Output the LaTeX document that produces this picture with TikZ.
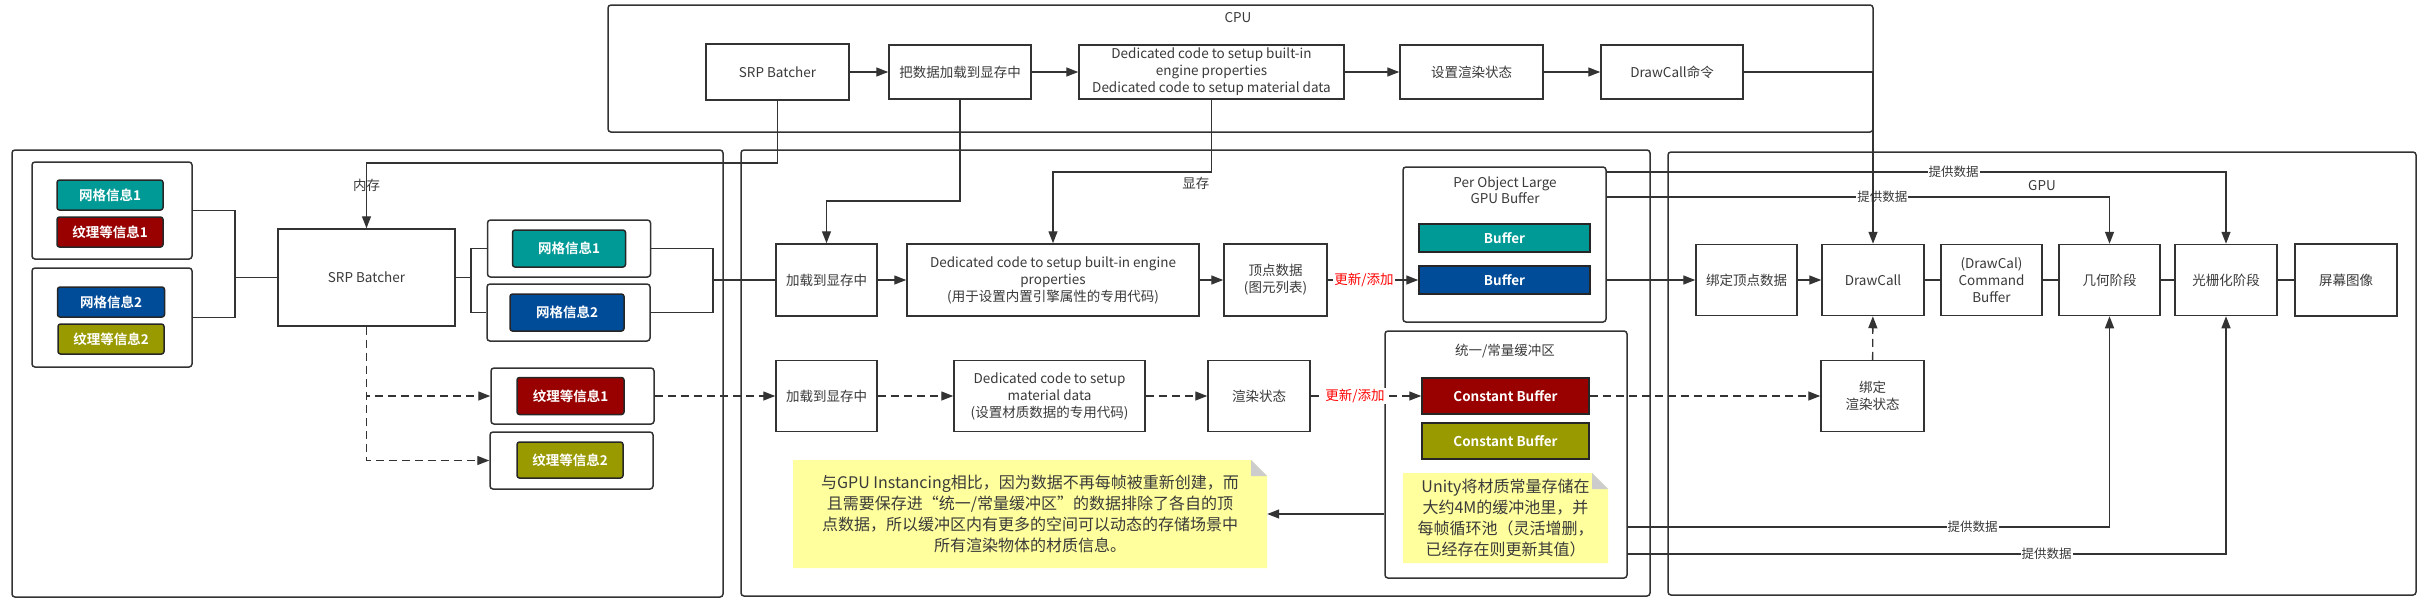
\documentclass[tikz,border=0pt]{standalone}
\usepackage{fontspec}
\setmainfont{Noto Sans CJK SC}[BoldFont={Noto Sans CJK SC Bold}]
\usetikzlibrary{arrows.meta, positioning}

\definecolor{lineC}{HTML}{333333}
\definecolor{txtC}{HTML}{3A3A3A}
\definecolor{meshTeal}{HTML}{009A96}
\definecolor{texRed}{HTML}{990000}
\definecolor{meshBlue}{HTML}{004C99}
\definecolor{texOlive}{HTML}{999900}
\definecolor{noteYellow}{HTML}{FFFF9E}
\definecolor{foldGray}{HTML}{CCCCCC}
\definecolor{updRed}{HTML}{FF0000}

\begin{document}
\begin{tikzpicture}[x=1pt, y=-1pt,
    wh/.style 2 args={minimum width=#1pt, minimum height=#2pt},
    frame/.style={draw=lineC, line width=1.5pt, rounded corners=3pt, inner sep=0pt},
    box/.style={draw=lineC, line width=1.5pt, fill=white, align=center, inner sep=0pt, text=txtC, font=\fontsize{13.5}{17}\selectfont},
    chip/.style={draw=black!85, line width=1.5pt, rounded corners=2.5pt, text=white, inner sep=0pt, font=\fontsize{13.5}{16}\selectfont\bfseries},
    bufbar/.style={chip, rounded corners=0pt},
    note/.style={fill=white, align=center, inner sep=0pt, text=txtC, font=\fontsize{16}{21}\selectfont,
      path picture={
        \fill[noteYellow] (path picture bounding box.south west) |- ([xshift=-16pt]path picture bounding box.north east)
          -- ([yshift=-16pt]path picture bounding box.north east) -- (path picture bounding box.south east) -- cycle;
        \fill[foldGray] ([xshift=-16pt]path picture bounding box.north east) -- ([xshift=-16pt,yshift=-16pt]path picture bounding box.north east)
          -- ([yshift=-16pt]path picture bounding box.north east) -- cycle;}},
    title/.style={text=txtC, align=center, inner sep=1pt, font=\fontsize{13.5}{16}\selectfont},
    lbl/.style={text=txtC, fill=white, inner sep=1pt, font=\fontsize{12.5}{14}\selectfont},
    upd/.style={lbl, text=updRed, font=\fontsize{13.5}{15}\selectfont},
    wire/.style={draw=lineC, line width=1.4pt},
    flow/.style={wire, -{Triangle[length=12pt, width=9pt]}},
    dflow/.style={flow, dash pattern=on 8pt off 5pt}]

    \useasboundingbox (0,0) rectangle (2436,611);

    \node[frame, wh={1265}{127}] (cpuFrame) at (1240.5,68.5) {};
    \node[title] (cpuTitle) at (1238,18) {CPU};
    \node[frame, wh={711}{447}] (ramFrame) at (367.5,373.5) {};
    \node[frame, wh={909}{446}] (vramFrame) at (1195.5,373) {};
    \node[frame, wh={748}{443}] (gpuFrame) at (2042,373.5) {};
    \node[title] (gpuTitle) at (2042,186) {GPU};

    \node[box, wh={143}{56}] (cpuSrp) at (777.5,72) {SRP Batcher};
    \node[box, wh={142}{54}] (cpuLoad) at (960,72) {把数据加载到显存中};
    \node[box, wh={265}{54}] (cpuDed) at (1211.5,72) {Dedicated code to setup built-in\\engine properties\\Dedicated code to setup material data};
    \node[box, wh={143}{54}] (cpuSet) at (1471.5,72) {设置渲染状态};
    \node[box, wh={142}{54}] (cpuDc) at (1672,72) {DrawCall命令};

    \node[frame, wh={160}{97}] (memGrp1) at (112,210.5) {};
    \node[chip, fill=meshTeal, wh={106}{30}] (mesh1) at (110,195) {网格信息1};
    \node[chip, fill=texRed, wh={106}{30}] (tex1) at (110,232) {纹理等信息1};
    \node[frame, wh={160}{99}] (memGrp2) at (112,317.5) {};
    \node[chip, fill=meshBlue, wh={107}{30}] (mesh2) at (111,302) {网格信息2};
    \node[chip, fill=texOlive, wh={106}{30}] (tex2) at (111,339) {纹理等信息2};
    \node[box, wh={177}{97}] (memSrp) at (366.5,277.5) {SRP Batcher};
    \node[frame, wh={163}{57}] (grpA) at (569,248.5) {};
    \node[chip, fill=meshTeal, wh={113}{37}] (meshA) at (569,248.5) {网格信息1};
    \node[frame, wh={163}{57}] (grpB) at (568.5,312.5) {};
    \node[chip, fill=meshBlue, wh={114}{37}] (meshB) at (567,312.5) {网格信息2};
    \node[frame, wh={163}{56}] (grpC) at (572.5,396) {};
    \node[chip, fill=texRed, wh={107}{37}] (texC) at (570.5,396) {纹理等信息1};
    \node[frame, wh={163}{57}] (grpD) at (571.5,460.5) {};
    \node[chip, fill=texOlive, wh={106}{36}] (texD) at (570,460) {纹理等信息2};

    \node[box, wh={101}{72}] (vLoad) at (826.5,280) {加载到显存中};
    \node[box, wh={292}{72}] (vDed) at (1053,280) {Dedicated code to setup built-in engine\\properties\\(用于设置内置引擎属性的专用代码)};
    \node[box, wh={103}{72}] (vVert) at (1275.5,280) {顶点数据\\(图元列表)};
    \node[frame, wh={203}{155}] (perObj) at (1504.5,244.5) {};
    \node[title] (perObjTitle) at (1505,190) {Per Object Large\\GPU Buffer};
    \node[bufbar, fill=meshTeal, wh={171}{28}] (bufA) at (1504.5,238) {Buffer};
    \node[bufbar, fill=meshBlue, wh={171}{28}] (bufB) at (1504.5,280) {Buffer};
    \node[box, wh={101}{71}] (mLoad) at (826.5,396) {加载到显存中};
    \node[box, wh={191}{71}] (mDed) at (1049.5,396) {Dedicated code to setup\\material data\\(设置材质数据的专用代码)};
    \node[box, wh={102}{71}] (mState) at (1259,396) {渲染状态};
    \node[frame, wh={242}{247}] (cbGrp) at (1506,454.5) {};
    \node[title] (cbTitle) at (1505,351) {统一/常量缓冲区};
    \node[bufbar, fill=texRed, wh={167}{36}] (cbA) at (1505.5,396) {Constant Buffer};
    \node[bufbar, fill=texOlive, wh={167}{36}] (cbB) at (1505.5,441) {Constant Buffer};
    \node[note, wh={205}{90}] (noteUnity) at (1505.5,518) {Unity将材质常量存储在\\大约4M的缓冲池里，并\\每帧循环池（灵活增删，\\已经存在则更新其值）};
    \node[note, wh={474}{108}] (noteBatch) at (1030,514) {与GPU Instancing相比，因为数据不再每帧被重新创建，而\\且需要保存进“统一/常量缓冲区”的数据排除了各自的顶\\点数据，所以缓冲区内有更多的空间可以动态的存储场景中\\所有渲染物体的材质信息。};

    \node[box, wh={101}{71}] (gBind) at (1746.5,280) {绑定顶点数据};
    \node[box, wh={102}{71}] (gDc) at (1873,280) {DrawCall};
    \node[box, wh={101}{71}] (gCmd) at (1991.5,280) {(DrawCal)\\Command\\Buffer};
    \node[box, wh={101}{71}] (gGeo) at (2109.5,280) {几何阶段};
    \node[box, wh={102}{71}] (gRas) at (2226,280) {光栅化阶段};
    \node[box, wh={102}{72}] (gScr) at (2346,280) {屏幕图像};
    \node[box, wh={103}{71}] (gBindRs) at (1872.5,396) {绑定\\渲染状态};

    \draw[flow] (cpuSrp) -- (cpuLoad);
    \draw[flow] (cpuLoad) -- (cpuDed);
    \draw[flow] (cpuDed) -- (cpuSet);
    \draw[flow] (cpuSet) -- (cpuDc);
    \draw[flow] (cpuSrp.south) -- (cpuSrp.south |- 0,163) -| node[title, pos=0.67] {内存} (memSrp.north);
    \draw[flow] (cpuLoad.south) -- (cpuLoad.south |- 0,201) -| (vLoad.north);
    \draw[flow] (cpuDed.south) -- (cpuDed.south |- 0,172) -| node[title, pos=0.049, below=3pt] {显存} (vDed.north);

    \coordinate (jL) at (235,277.5);
    \draw[wire] (memGrp1.east) -| (jL) |- (memGrp2.east);
    \draw[wire] (jL) -- (memSrp.west);
    \coordinate (jM) at (471,277.5);
    \draw[wire] (memSrp.east) -- (jM);
    \draw[wire] (grpA.west) -| (jM) |- (grpB.west);
    \coordinate (jR) at (713,280);
    \draw[wire] (grpA.east) -| (jR) |- (grpB.east);
    \draw[wire] (jR) -- (vLoad.west);

    \draw[dflow] (memSrp.south) |- (grpC.west);
    \draw[dflow] (memSrp.south) |- (grpD.west);
    \draw[dflow] (grpC) -- (mLoad);
    \draw[dflow] (mLoad) -- (mDed);
    \draw[dflow] (mDed) -- (mState);
    \draw[dflow] (mState) -- node[upd, pos=0.4] {更新/添加} (cbA);
    \draw[dflow] (cbA) -- (gBindRs);
    \draw[dflow] (gBindRs) -- (gDc);

    \draw[flow] (vLoad) -- (vDed);
    \draw[flow] (vDed) -- (vVert);
    \draw[flow] (vVert) -- node[upd, pos=0.4] {更新/添加} (bufB);
    \draw[flow] (perObj.east |- bufB.east) -- (gBind.west);
    \draw[flow] (gBind) -- (gDc);
    \draw[wire] (gDc) -- (gCmd);
    \draw[wire] (gCmd) -- (gGeo);
    \draw[wire] (gGeo) -- (gRas);
    \draw[wire] (gRas) -- (gScr);

    \draw[flow] (perObj.east |- 0,172) -| node[lbl, pos=0.28] {提供数据} (gRas.north);
    \draw[flow] (perObj.east |- 0,197) -| node[lbl, pos=0.274] {提供数据} (gGeo.north);
    \draw[flow] (cbGrp.east |- 0,527) -| node[lbl, pos=0.358] {提供数据} (gGeo.south);
    \draw[flow] (cbGrp.east |- 0,554) -| node[lbl, pos=0.35] {提供数据} (gRas.south);
    \draw[flow] (cbGrp.west |- noteBatch.east) -- (noteBatch.east);
    \draw[flow] (cpuDc) -| (gDc.north);
\end{tikzpicture}
\end{document}
